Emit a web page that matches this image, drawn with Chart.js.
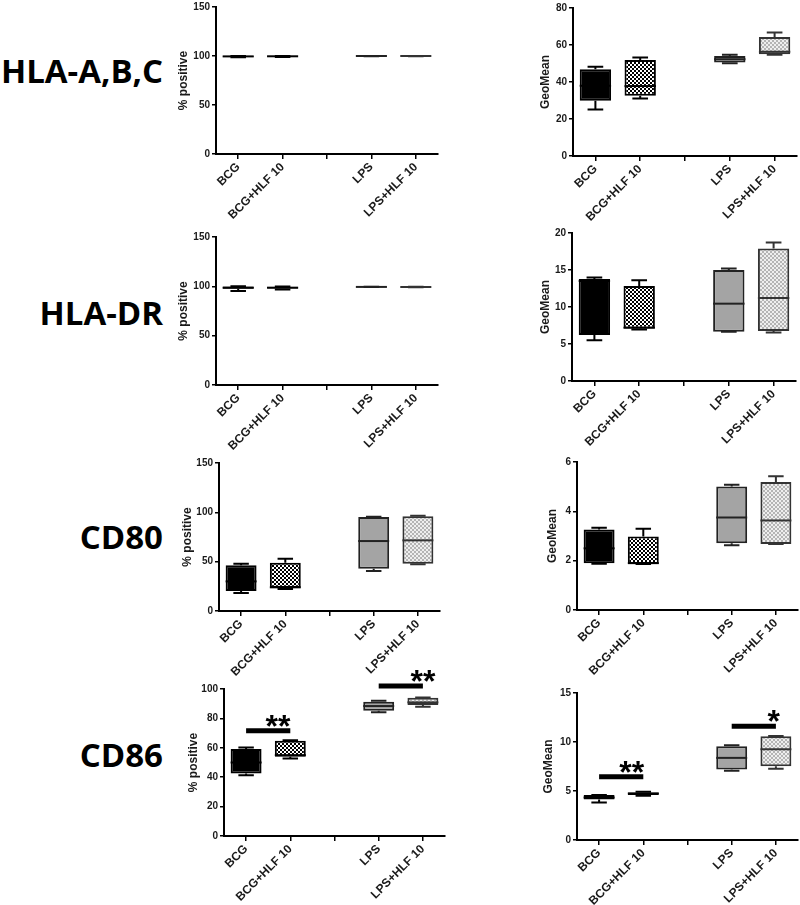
<!DOCTYPE html>
<html>
<head>
<meta charset="utf-8">
<script src="https://cdn.jsdelivr.net/npm/chart.js@4.4.1/dist/chart.umd.min.js"></script>
<style>
    html, body { margin: 0; padding: 0; background: #fff; width: 800px; height: 905px; overflow: hidden; position: relative; }
    .panel { position: absolute; }
    .rowlabel {
        position: absolute; right: 637px;
        font-family: 'Open Sans', sans-serif; font-weight: 700; font-size: 33px; line-height: 1;
        color: #000; white-space: nowrap; transform: translateY(-50%);
    }
</style>
</head>
<body>
<div class="rowlabel" style="top:70px">HLA-A,B,C</div>
<div class="rowlabel" style="top:312px">HLA-DR</div>
<div class="rowlabel" style="top:536px">CD80</div>
<div class="rowlabel" style="top:754px">CD86</div>
<script>
// --- categories (third slot is an empty spacer) ---
const groups = ['BCG', 'BCG+HLF 10', '', 'LPS', 'LPS+HLF 10'];

// --- box stats per group: [min, q1, median, q3, max] ---
const hlaAbcPct = [[98.6, 99.2, 99.6, 100, 100], [99.0, 99.4, 99.7, 100, 100], null, [99.8, 99.9, 100, 100, 100], [99.8, 99.9, 100, 100, 100]];
const hlaAbcGeo = [[25.2, 29.9, 38, 46.9, 48.3], [31.1, 32.6, 37.8, 51.9, 53.2], null, [50.1, 50.5, 52.3, 54.1, 54.7], [54.7, 55.0, 56.3, 64.3, 66.8]];
const hlaDrPct  = [[95.2, 97.6, 98.6, 99.8, 100], [96.8, 97.7, 98.6, 99.6, 99.9], null, [99.2, 99.3, 99.4, 99.5, 99.6], [99.1, 99.2, 99.3, 99.4, 99.5]];
const hlaDrGeo  = [[5.5, 6.2, 13.5, 13.8, 14.0], [6.97, 7.1, 7.2, 12.85, 13.6], null, [6.65, 6.65, 10.45, 15.0, 15.2], [6.56, 6.74, 11.2, 17.9, 18.7]];
const cd80Pct   = [[18.2, 20.3, 30, 46.3, 48], [22.3, 23.6, 24, 49, 53], null, [40.5, 42.9, 70.9, 95.3, 95.5], [47.3, 48, 71.6, 96, 96.6]];
const cd80Geo   = [[1.87, 1.90, 2.5, 3.26, 3.33], [1.86, 1.86, 1.9, 2.98, 3.29], null, [2.62, 2.71, 3.75, 5.01, 5.08], [2.68, 2.68, 3.63, 5.19, 5.42]];
const cd86Pct   = [[41.4, 42.5, 50, 59.1, 60.2], [52.7, 53.9, 55, 64.8, 65.2], null, [84.1, 85.2, 88.4, 91.4, 92], [87.95, 89.1, 90.9, 94.0, 94.3]];
const cd86Geo   = [[3.83, 4.14, 4.34, 4.58, 4.58], [4.51, 4.58, 4.75, 4.85, 4.92], null, [7.06, 7.19, 8.38, 9.57, 9.67], [7.26, 7.53, 9.26, 10.59, 10.62]];

// --- significance bars: [from group, to group, y value, label, label position] ---
const cd86PctSig = [[0, 1, 71.6, '**', 0.72], [3, 4, 102, '**', 4.0]];
const cd86GeoSig = [[0, 1, 6.45, '**', 0.74], [3, 4, 11.6, '*', 3.95]];

const fontFamily = '"Liberation Sans", Arial, sans-serif';

function checker(c1, c2, size) {
    const p = document.createElement('canvas');
    p.width = p.height = size * 2;
    const c = p.getContext('2d');
    c.fillStyle = c1; c.fillRect(0, 0, size * 2, size * 2);
    c.fillStyle = c2; c.fillRect(0, 0, size, size); c.fillRect(size, size, size, size);
    return c.createPattern(p, 'repeat');
}

const boxFills = ['#000', checker('#fff', '#000', 2), '#a4a4a4', checker('#eeeeee', '#b4b4b4', 2)];
const boxBorders = ['#000', '#000', '#222', '#333'];
const fills = [boxFills[0], boxFills[1], null, boxFills[2], boxFills[3]];
const borders = [boxBorders[0], boxBorders[1], null, boxBorders[2], boxBorders[3]];

// whiskers behind the boxes, medians and significance marks on top
const boxPlugin = {
    id: 'boxes',
    beforeDatasetsDraw(chart, args, opts) {
        const { ctx, scales: { x, y } } = chart;
        const bars = chart.getDatasetMeta(0).data;
        ctx.save();
        ctx.lineWidth = 2;
        opts.stats.forEach((s, i) => {
            if (!s) return;
            const cx = x.getPixelForValue(i);
            const cap = bars[i].width * 0.25;
            ctx.strokeStyle = borders[i];
            ctx.beginPath();
            [[s[0], s[1]], [s[4], s[3]]].forEach(([end, edge]) => {
                const ye = y.getPixelForValue(end), yb = y.getPixelForValue(edge);
                ctx.moveTo(cx, yb); ctx.lineTo(cx, ye);
                ctx.moveTo(cx - cap, ye); ctx.lineTo(cx + cap, ye);
            });
            ctx.stroke();
        });
        ctx.restore();
    },
    afterDatasetsDraw(chart, args, opts) {
        const { ctx, scales: { x, y } } = chart;
        const bars = chart.getDatasetMeta(0).data;
        ctx.save();
        ctx.lineWidth = 2;
        opts.stats.forEach((s, i) => {
            if (!s) return;
            const cx = x.getPixelForValue(i);
            const half = bars[i].width / 2;
            const ym = y.getPixelForValue(s[2]);
            ctx.strokeStyle = borders[i];
            ctx.beginPath();
            ctx.moveTo(cx - half, ym); ctx.lineTo(cx + half, ym);
            ctx.stroke();
        });
        (opts.sig || []).forEach(([a, b, v, label, lx]) => {
            const yv = y.getPixelForValue(v);
            ctx.strokeStyle = '#000';
            ctx.lineWidth = 5;
            ctx.beginPath();
            ctx.moveTo(x.getPixelForValue(a), yv);
            ctx.lineTo(x.getPixelForValue(b), yv);
            ctx.stroke();
            ctx.fillStyle = '#000';
            ctx.font = 'bold 32px ' + fontFamily;
            ctx.textAlign = 'center';
            ctx.textBaseline = 'alphabetic';
            ctx.fillText(label, x.getPixelForValue(lx), yv + 6);
        });
        ctx.restore();
    }
};

// area = [left, top, right, bottom] of the plot area in page pixels
function panel(area, stats, yMax, yStep, yTitle, titleGap, sig) {
    const [L, T, R, B] = area;
    const YW = titleGap + 7, PT = 30, PR = 8, XH = 80;
    const w = YW + (R - L) + PR, h = PT + (B - T) + XH;
    const wrap = document.createElement('div');
    wrap.className = 'panel';
    wrap.style.left = (L - YW) + 'px';
    wrap.style.top = (T - PT) + 'px';
    const cv = document.createElement('canvas');
    cv.width = w; cv.height = h;
    cv.style.width = w + 'px'; cv.style.height = h + 'px';
    wrap.appendChild(cv);
    document.body.appendChild(wrap);

    new Chart(cv.getContext('2d'), {
        type: 'bar',
        data: {
            labels: groups,
            datasets: [{
                data: stats.map(s => s ? [s[1], s[3]] : null),
                backgroundColor: fills,
                borderColor: borders,
                borderWidth: 2,
                borderSkipped: false,
                barPercentage: 0.7,
                categoryPercentage: 1,
            }]
        },
        options: {
            responsive: false,
            animation: false,
            events: [],
            layout: { padding: { top: PT, right: PR, left: 0, bottom: 0 } },
            plugins: {
                legend: { display: false },
                tooltip: { enabled: false },
                boxes: { stats: stats, sig: sig }
            },
            scales: {
                x: {
                    offset: true,
                    afterFit: s => { s.height = XH; },
                    grid: { offset: false, drawOnChartArea: false, drawTicks: true, tickLength: 5, color: '#000', lineWidth: 1.5 },
                    border: { display: true, color: '#000', width: 2 },
                    ticks: {
                        autoSkip: false, maxRotation: 45, minRotation: 45, padding: 1,
                        color: '#1a1a1a', font: { family: fontFamily, size: 12, weight: 'bold' }
                    }
                },
                y: {
                    min: 0, max: yMax,
                    afterFit: s => { s.width = YW; },
                    grid: { drawOnChartArea: false, drawTicks: true, tickLength: 4, color: '#000', lineWidth: 1.5 },
                    border: { display: true, color: '#000', width: 2 },
                    ticks: {
                        stepSize: yStep, padding: 2,
                        color: '#1a1a1a', font: { family: fontFamily, size: 10, weight: 'bold' }
                    },
                    title: {
                        display: true, text: yTitle, padding: { top: 0, bottom: 0 },
                        color: '#1a1a1a', font: { family: fontFamily, size: 12, weight: 'bold' }
                    }
                }
            }
        },
        plugins: [boxPlugin]
    });
}

panel([216, 7, 438, 154],   hlaAbcPct, 150, 50, '% positive', 33);
panel([573, 8, 797, 156],   hlaAbcGeo, 80, 20, 'GeoMean', 28);
panel([216, 237, 438, 385], hlaDrPct, 150, 50, '% positive', 33);
panel([572, 233, 796, 381], hlaDrGeo, 20, 5, 'GeoMean', 27);
panel([219, 463, 440, 611], cd80Pct, 150, 50, '% positive', 32);
panel([577, 462, 798, 610], cd80Geo, 6, 2, 'GeoMean', 25);
panel([224, 689, 445, 836], cd86Pct, 100, 20, '% positive', 31, cd86PctSig);
panel([577, 693, 798, 840], cd86Geo, 15, 5, 'GeoMean', 29, cd86GeoSig);
</script>
</body>
</html>
